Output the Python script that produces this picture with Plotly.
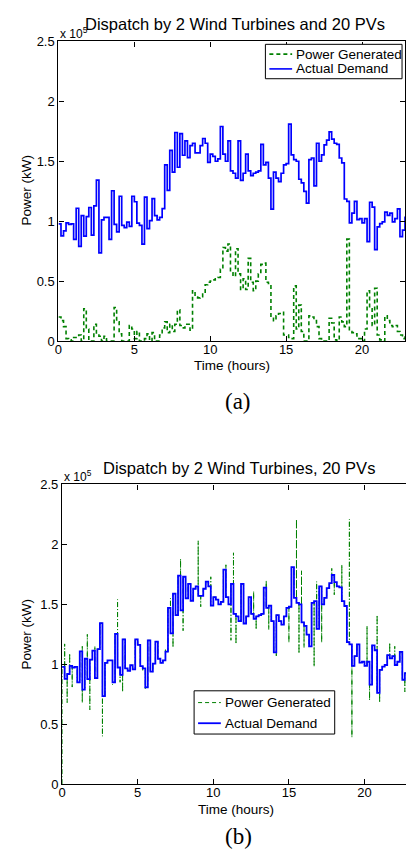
import numpy as np
import plotly.graph_objects as go

# ---------------- data (values in units of 1e5 kW) ----------------
STEP_HOURS = 1 / 6  # 10-minute resolution

demand = [0.978, 0.878, 0.919, 0.986, 0.973, 0.978, 0.849, 1.108, 0.789, 1.046,
          0.876, 1.038, 1.114, 0.884, 1.127, 1.343, 0.735, 1.011, 1.032, 1.032,
          0.849, 1.254, 0.973, 0.911, 1.208, 0.965, 0.946, 0.992, 0.957, 1.208,
          1.162, 0.984, 0.965, 0.808, 1.200, 0.938, 1.005, 1.189, 1.046, 1.011,
          1.032, 1.105, 1.470, 1.257, 1.590,
          1.41, 1.74, 1.45, 1.73, 1.55, 1.67, 1.53, 1.63, 1.65, 1.57,
          1.57, 1.63, 1.69, 1.65, 1.49, 1.56, 1.54, 1.50, 1.52, 1.79,
          1.56, 1.50, 1.67, 1.42, 1.40, 1.36, 1.67, 1.34, 1.40, 1.56,
          1.42, 1.38, 1.40, 1.41, 1.42, 1.64, 1.47, 1.49, 1.36, 1.10,
          1.41, 1.36, 1.33, 1.40, 1.47, 1.48, 1.81,
          1.554, 1.513, 1.500, 1.350, 1.320, 1.248, 1.150, 1.513, 1.527, 1.295,
          1.650, 1.500, 1.554, 1.636, 1.677, 1.745, 1.685, 1.650, 1.641, 1.527,
          1.486, 1.185, 1.166, 0.986, 1.068, 1.166, 1.013, 1.021, 0.986, 1.021,
          0.830, 1.158, 1.117, 0.762, 0.953, 0.980, 0.994, 1.076, 1.049, 1.068,
          0.994, 1.021, 1.103, 0.871, 0.926, 1.040]

generated_a = [0.20, 0.17, 0.12, 0.02, 0.01, 0.00, 0.03, 0.03, 0.05, 0.00,
               0.27, 0.10, 0.00, 0.00, 0.14, 0.06, 0.04, 0.00, 0.04, 0.00,
               0.00, 0.00, 0.28, 0.16, 0.06, 0.00, 0.00, 0.00, 0.13, 0.10,
               0.02, 0.08, 0.00, 0.00, 0.02, 0.06, 0.00, 0.07, 0.00, 0.00,
               0.05, 0.11, 0.16, 0.07, 0.14,
               0.08, 0.14, 0.26, 0.13, 0.11, 0.14, 0.14, 0.09, 0.42, 0.37,
               0.36, 0.37, 0.40, 0.47, 0.49, 0.50, 0.51, 0.52, 0.53, 0.60,
               0.78, 0.75, 0.81, 0.57, 0.54, 0.77, 0.56, 0.43, 0.52, 0.43,
               0.69, 0.49, 0.42, 0.50, 0.56, 0.64, 0.65, 0.49, 0.48, 0.20,
               0.17, 0.21, 0.23, 0.24, 0.05, 0.05, 0.03, 0.02,
               0.46, 0.10, 0.30, 0.08, 0.00, 0.00, 0.21, 0.20, 0.17, 0.12,
               0.02, 0.00, 0.00, 0.00, 0.19, 0.15, 0.01, 0.00, 0.20, 0.16,
               0.12, 0.85, 0.08, 0.07, 0.06, 0.02, 0.02, 0.00, 0.10, 0.42,
               0.27, 0.13, 0.44, 0.05, 0.01, 0.00, 0.21, 0.17, 0.13, 0.12,
               0.13, 0.08, 0.05, 0.02, 0.06]

# dispatch (b): generation follows demand, with transients at step changes
generated_b_start = 0.0
spike_hours = [0.17, 0.33, 0.5, 0.67, 1.17, 1.33, 1.33, 1.67, 1.83, 2.17, 2.67, 3.33,
               3.67, 3.83, 4.0, 5.0, 5.33, 5.5, 6.83, 7.17, 7.33, 7.83, 8.0, 9.0,
               9.17, 9.83, 10.83, 11.17, 11.33, 11.5, 12.17, 12.67, 12.83, 13.5,
               13.67, 14.17, 15.0, 15.5, 15.67, 15.83, 16.0, 16.67, 16.83, 17.17,
               17.83, 18.0, 18.5, 19.0, 19.17, 20.17, 20.33, 20.83, 21.0, 21.67,
               22.0, 22.67]
spike_values = [1.17, 0.68, 1.09, 0.81, 0.85, 1.15, 0.68, 1.25, 0.62, 1.15, 0.40, 0.83,
                1.54, 0.85, 0.77, 1.17, 0.95, 0.79, 1.13, 1.55, 1.14, 1.88, 1.28, 2.03,
                1.48, 1.73, 1.83, 1.20, 1.93, 1.17, 1.36, 1.61, 1.29, 1.70,
                1.29, 1.07, 1.18, 2.21, 1.09, 1.78, 1.14, 0.98, 1.69, 1.18,
                1.80, 1.58, 1.83, 2.21, 0.39, 1.32, 0.70, 1.41, 0.68, 1.18,
                1.15, 0.77]

series_names = ["Power Generated", "Actual Demand"]
x_ticks = [0, 5, 10, 15, 20]
y_ticks = [0, 0.5, 1, 1.5, 2, 2.5]
y_ticktext = ["0", "0.5", "1", "1.5", "2", "2.5"]

# ---------------- derived ----------------
n = len(demand)
t = np.arange(n) * STEP_HOURS

spikes = {}
for h, v in zip(spike_hours, spike_values):
    spikes.setdefault(int(round(h / STEP_HOURS)), []).append(v)

gx, gy = [0.0], [generated_b_start]
for k in range(n):
    tk = t[k]
    if k > 0:
        gx.append(tk); gy.append(demand[k - 1])
    for v in spikes.get(k, []):
        gx.append(tk); gy.append(v)
    gx.append(tk); gy.append(demand[k])

W, H = 406, 856
FONT = "Liberation Sans, Arial, Helvetica, sans-serif"
SERIF = "Liberation Serif, Times New Roman, serif"
GREEN = "rgb(0,128,0)"
BLUE = "rgb(0,0,255)"
DASH_A = "4px,3px"
DASH_B = "5px,2px,1px,2px"


def px(x):
    return x / W


def py(y):
    return 1 - y / H


fig = go.Figure()
fig.add_trace(go.Scatter(x=t, y=generated_a, mode="lines", name=series_names[0],
                         line=dict(color=GREEN, width=1.6, dash=DASH_A, shape="hv"),
                         xaxis="x", yaxis="y", showlegend=False))
fig.add_trace(go.Scatter(x=t, y=demand, mode="lines", name=series_names[1],
                         line=dict(color=BLUE, width=1.7, shape="hv"),
                         xaxis="x", yaxis="y", showlegend=False))
fig.add_trace(go.Scatter(x=gx, y=gy, mode="lines", name=series_names[0],
                         line=dict(color=GREEN, width=1, dash=DASH_B),
                         xaxis="x2", yaxis="y2", showlegend=False))
fig.add_trace(go.Scatter(x=t, y=demand, mode="lines", name=series_names[1],
                         line=dict(color=BLUE, width=1.8, shape="hv"),
                         xaxis="x2", yaxis="y2", showlegend=False))

axis_common = dict(showline=True, linecolor="black", linewidth=1.3, ticks="inside",
                   ticklen=5, tickcolor="black", showgrid=False, zeroline=False,
                   tickfont=dict(family=FONT, size=13, color="black"))

annotations = []
shapes = []


def text(s, x, y, size=13.5, family=FONT, xanchor="center", angle=0):
    annotations.append(dict(text=s, xref="paper", yref="paper", x=px(x), y=py(y),
                            xanchor=xanchor, yanchor="middle", showarrow=False,
                            textangle=angle,
                            font=dict(family=family, size=size, color="black")))


def legend_box(x0, y0, x1, y1, rows, line_styles):
    shapes.append(dict(type="rect", xref="paper", yref="paper",
                       x0=px(x0), x1=px(x1), y0=py(y0), y1=py(y1),
                       line=dict(color="black", width=1), fillcolor="white", layer="above"))
    for (ry, label), (color, width, dash) in zip(rows, line_styles):
        shapes.append(dict(type="line", xref="paper", yref="paper",
                           x0=px(x0 + 4), x1=px(x0 + 27), y0=py(ry), y1=py(ry),
                           line=dict(color=color, width=width, dash=dash), layer="above"))
        text(label, x0 + 29, ry, xanchor="left")


# titles
text("Dispatch by 2 Wind Turbines and 20 PVs", 233, 17.5, size=16.5)
text("Dispatch by 2 Wind Turbines, 20 PVs", 237, 469, size=16.5)
# exponent labels
text("x 10<sup>5</sup>", 55, 26, size=12, xanchor="left")
text("x 10<sup>5</sup>", 59, 477, size=12, xanchor="left")
# axis titles
text("Time (hours)", 230, 365)
text("Time (hours)", 234.5, 817)
text("Power (kW)", 23, 186, angle=-90)
text("Power (kW)", 23, 638, angle=-90)
# panel labels
text("(a)", 236, 402, size=23, family=SERIF)
text("(b)", 237, 844, size=23, family=SERIF)

legend_box(264, 38, 402, 73, [(48, series_names[0]), (63, series_names[1])],
           [(GREEN, 1.6, DASH_A), (BLUE, 1.6, "solid")])
legend_box(192, 696, 334, 740, [(708, series_names[0]), (729, series_names[1])],
           [(GREEN, 1, "4px,3px"), (BLUE, 1.8, "solid")])

fig.update_layout(
    width=W, height=H, margin=dict(l=0, r=0, t=0, b=0),
    paper_bgcolor="white", plot_bgcolor="white",
    font=dict(family=FONT, color="black"),
    showlegend=False,
    xaxis=dict(domain=[px(55), px(405)], range=[0, t[-1]], anchor="y",
               tickvals=x_ticks, mirror="ticks", ticklabelstandoff=-4, **axis_common),
    yaxis=dict(domain=[py(340), py(35)], range=[0, 2.5], anchor="x",
               tickvals=y_ticks, ticktext=y_ticktext, mirror="ticks", **axis_common),
    xaxis2=dict(domain=[px(58.7), 1.0], range=[0, (W - 58.7) / 15.27], anchor="y2",
                tickvals=x_ticks, mirror="ticks", ticklabelstandoff=-4, **axis_common),
    yaxis2=dict(domain=[py(791), py(486)], range=[0, 2.5], anchor="x2",
                tickvals=y_ticks, ticktext=y_ticktext, mirror=False, **axis_common),
    annotations=annotations,
    shapes=shapes,
)

fig.write_html("out.html", config={"displayModeBar": False},
               post_script="document.body.style.margin='0';document.body.style.overflow='hidden';")
